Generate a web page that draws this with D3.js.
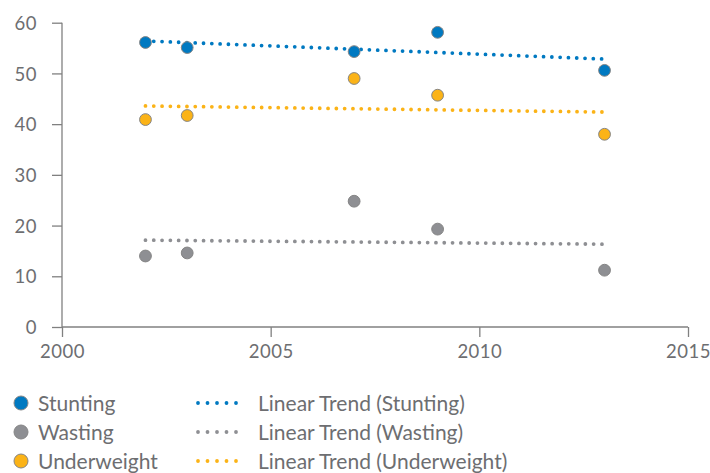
<!DOCTYPE html>
<html lang="en">
<head>
<meta charset="UTF-8">
<title>Stunting, Wasting, Underweight</title>
<script src="https://d3js.org/d3.v7.min.js"></script>
<style>
  body { margin: 0; background: #fff; }
  svg text { font-family: Lato, "Open Sans", sans-serif; fill: #6d6e71; }
</style>
</head>
<body>
<svg id="chart" width="710" height="473"></svg>
<script>
// data
const years = [2002, 2003, 2007, 2009, 2013];
const stunting = [56.1, 55.1, 54.3, 58.1, 50.6];
const wasting = [14.0, 14.6, 24.8, 19.3, 11.2];
const underweight = [40.9, 41.7, 49.0, 45.7, 38.0];
const seriesNames = ["Stunting", "Wasting", "Underweight"];
const seriesColors = ["#0079c1", "#8e8f93", "#fbb317"];
const xTicks = [2000, 2005, 2010, 2015];
const yTicks = [0, 10, 20, 30, 40, 50, 60];

const seriesValues = [stunting, wasting, underweight];

const svg = d3.select("#chart");
const margin = { left: 62, right: 22, top: 22.7, bottom: 146 };
const width = 710, height = 473;

const x = d3.scaleLinear().domain([2000, 2015]).range([margin.left, width - margin.right]);
const y = d3.scaleLinear().domain([0, 60]).range([height - margin.bottom, margin.top]);

// axes
const yAxis = svg.append("g")
    .attr("transform", `translate(${margin.left},0)`)
    .call(d3.axisLeft(y).tickValues(yTicks).tickSize(10).tickPadding(15).tickFormat(d3.format("d")));
const xAxis = svg.append("g")
    .attr("transform", `translate(0,${y(0)})`)
    .call(d3.axisBottom(x).tickValues(xTicks).tickSize(10).tickPadding(8).tickFormat(d3.format("d")));

[xAxis, yAxis].forEach(a => {
    a.select(".domain").attr("stroke", "#808080").attr("stroke-width", 1.3);
    a.selectAll(".tick line").attr("stroke", "#808080").attr("stroke-width", 1.3);
    a.selectAll(".tick text")
        .style("font-size", "18.5px")
        .style("letter-spacing", "0.5px")
        .attr("fill", "#6d6e71");
});
yAxis.select(".domain").attr("d", `M0,${y(0)}V${y(60)}`);
yAxis.selectAll(".tick text").attr("dy", "0.36em");
xAxis.select(".domain").attr("d", `M${x(2000)},0H${x(2015)}`);

// linear trend (least squares, like the spreadsheet trendline)
function trend(xs, ys) {
    const mx = d3.mean(xs), my = d3.mean(ys);
    const sxy = d3.sum(xs, (v, i) => (v - mx) * (ys[i] - my));
    const sxx = d3.sum(xs, v => (v - mx) * (v - mx));
    const b = sxy / sxx;
    const x0 = d3.min(xs), x1 = d3.max(xs);
    return [[x0, my + b * (x0 - mx)], [x1, my + b * (x1 - mx)]];
}

const line = d3.line().x(d => x(d[0])).y(d => y(d[1]));

seriesValues.forEach((vals, i) => {
    svg.append("path")
        .attr("d", line(trend(years, vals)))
        .attr("fill", "none")
        .attr("stroke", seriesColors[i])
        .attr("stroke-width", 3.8)
        .attr("stroke-linecap", "round")
        .attr("stroke-dasharray", "0 8.3");
});

// points
seriesValues.forEach((vals, i) => {
    svg.append("g").selectAll("circle")
        .data(vals)
        .enter().append("circle")
        .attr("cx", (d, j) => x(years[j]))
        .attr("cy", d => y(d))
        .attr("r", 5.9)
        .attr("fill", seriesColors[i])
        .attr("stroke", "#858585")
        .attr("stroke-width", 1);
});

// legend
const legend = svg.append("g");
seriesNames.forEach((name, i) => {
    const ly = 403 + i * 29;
    legend.append("circle")
        .attr("cx", 21).attr("cy", ly).attr("r", 7)
        .attr("fill", seriesColors[i]).attr("stroke", "#858585").attr("stroke-width", 1);
    legend.append("text")
        .attr("x", 38).attr("y", ly).attr("dy", "0.36em")
        .style("font-size", "21px").text(name);
    legend.append("line")
        .attr("x1", 198).attr("x2", 245.5).attr("y1", ly).attr("y2", ly)
        .attr("stroke", seriesColors[i]).attr("stroke-width", 3.8)
        .attr("stroke-linecap", "round").attr("stroke-dasharray", "0 9.5");
    legend.append("text")
        .attr("x", 258).attr("y", ly).attr("dy", "0.36em")
        .style("font-size", "21px").text(`Linear Trend (${name})`);
});
</script>
</body>
</html>
